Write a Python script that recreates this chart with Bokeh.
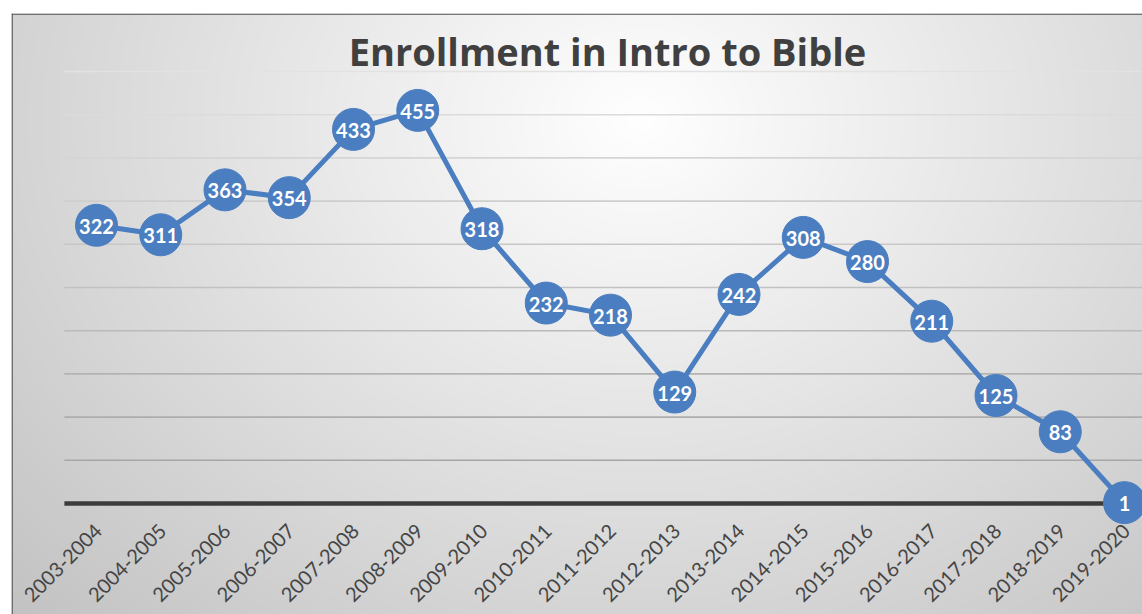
import numpy as np
from bokeh.plotting import figure
from bokeh.models import Range1d, Label, Span
from bokeh.core.properties import value
from bokeh.embed import file_html
from bokeh.resources import INLINE

# ---- data ----
years = ["2003-2004", "2004-2005", "2005-2006", "2006-2007", "2007-2008",
         "2008-2009", "2009-2010", "2010-2011", "2011-2012", "2012-2013",
         "2013-2014", "2014-2015", "2015-2016", "2016-2017", "2017-2018",
         "2018-2019", "2019-2020"]
enrollment = [322, 311, 363, 354, 433, 455, 318, 232, 218, 129, 242, 308,
              280, 211, 125, 83, 1]
grid_levels = [50, 100, 150, 200, 250, 300, 350, 400, 450, 500]
title_text = "Enrollment in Intro to Bible"

# ---- layout / style ----
BLUE = "#4a7ec0"
FONT = "Lato"
FIG_W, FIG_H = 1142, 614
BORDER_L, BORDER_T = 11, 13
FRAME_W, FRAME_H = FIG_W - BORDER_L, FIG_H - BORDER_T
PX_PER_CAT = 64.25
PX_PER_UNIT = 0.864
ORIGIN_X_FROM_FRAME = 85.0   # px from frame left to first category
ORIGIN_Y_FROM_FRAME = 490.0  # px from frame top to value 0

x_start = -ORIGIN_X_FROM_FRAME / PX_PER_CAT
x_end = x_start + FRAME_W / PX_PER_CAT
y_end = ORIGIN_Y_FROM_FRAME / PX_PER_UNIT
y_start = y_end - FRAME_H / PX_PER_UNIT

idx = list(range(len(years)))
n = len(years)
cat_lo, cat_hi = -0.5, n - 0.5

p = figure(width=FIG_W, height=FIG_H,
           x_range=Range1d(x_start, x_end), y_range=Range1d(y_start, y_end),
           output_backend="svg", toolbar_location=None,
           x_axis_type=None, y_axis_type=None,
           min_border_left=BORDER_L, min_border_top=BORDER_T,
           min_border_right=0, min_border_bottom=0)
p.grid.visible = False
p.outline_line_color = None
p.background_fill_color = "white"
p.border_fill_color = "white"

# ---- radial gradient background ----
step = 2
W2, H2 = FRAME_W // step + 1, FRAME_H // step + 1
px = (np.arange(W2) + 0.5) * step + BORDER_L
py = (np.arange(H2) + 0.5) * step + BORDER_T
X, Y = np.meshgrid(px, py)
t = np.sqrt(((X - 640) / 700.0) ** 2 + ((Y - 120) / 560.0) ** 2)
g = np.clip(255 - 48 * t, 190, 255).astype(np.uint8)
rgba = np.empty((H2, W2, 4), dtype=np.uint8)
rgba[..., 0] = g
rgba[..., 1] = g
rgba[..., 2] = g
rgba[..., 3] = 255
img = rgba.view(np.uint32).reshape(H2, W2)[::-1]
dw = W2 * step / PX_PER_CAT
dh = H2 * step / PX_PER_UNIT
p.image_rgba(image=[img], x=x_start, y=y_end - dh, dw=dw, dh=dh)

# chart border (left/top visible)
p.add_layout(Span(location=x_start + 0.6 / PX_PER_CAT, dimension="height",
                  line_color="#505050", line_width=1.3))
p.add_layout(Span(location=y_end - 0.6 / PX_PER_UNIT, dimension="width",
                  line_color="#505050", line_width=1.3))

# ---- gridlines (darker toward the bottom) ----
def grid_color(v):
    lo, hi = 0xa6, 0xe2
    c = int(round(lo + (hi - lo) * (v - grid_levels[0]) / (grid_levels[-1] - grid_levels[0])))
    return "#%02x%02x%02x" % (c, c, c)

p.segment(x0=[cat_lo] * len(grid_levels), y0=grid_levels,
          x1=[x_end] * len(grid_levels), y1=grid_levels,
          line_color=[grid_color(v) for v in grid_levels], line_width=1.6)

# baseline (category axis)
p.segment(x0=[cat_lo], y0=[0], x1=[x_end], y1=[0], line_color="#3c3c3c", line_width=4.5)

# ---- series ----
p.line(idx, enrollment, line_color=BLUE, line_width=5)
p.scatter(idx, enrollment, size=42, fill_color=BLUE, line_color=BLUE)
p.text(idx, enrollment, text=[str(v) for v in enrollment],
       text_align="center", text_baseline="middle",
       text_font=value(FONT), text_font_style="bold",
       text_font_size="20px", text_color="white", y_offset=1)

# ---- category labels ----
p.text(x=idx, y=[0] * n, text=years, angle=np.pi / 4,
       text_align="right", text_baseline="middle",
       x_offset=2, y_offset=24,
       text_font=value(FONT), text_font_size="20px", text_color="#454545")

# ---- title ----
p.add_layout(Label(x=(cat_lo + cat_hi) / 2, y=523.5, x_offset=-3, text=title_text,
                   text_align="center", text_baseline="alphabetic",
                   text_font="Open Sans", text_font_style="bold",
                   text_font_size="38px", text_color="#404040"))

open("out.html", "w").write(file_html(p, INLINE))
